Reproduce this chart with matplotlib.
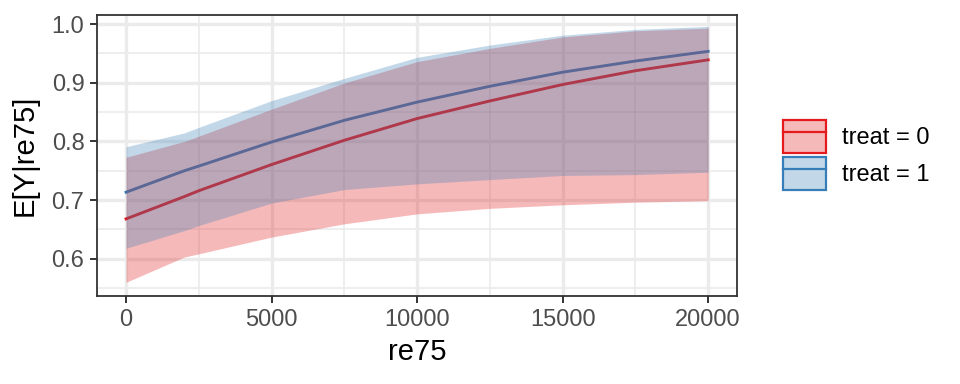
import numpy as np
from matplotlib import pyplot as plt
from matplotlib.patches import Patch
from matplotlib.lines import Line2D
from matplotlib.legend_handler import HandlerTuple

plt.rcParams['font.family'] = ['Liberation Sans', 'DejaVu Sans']

# values
re75 = [0, 2000, 2500, 5000, 7500, 10000, 12500, 15000, 17500, 20000]
fit_t0 = [0.668, 0.706, 0.716, 0.7606, 0.802, 0.839, 0.869, 0.897, 0.9205, 0.939]
lo_t0 = [0.560, 0.603, 0.6085, 0.637, 0.6596, 0.6766, 0.686, 0.692, 0.6965, 0.699]
hi_t0 = [0.773, 0.800, 0.809, 0.855, 0.8996, 0.936, 0.9586, 0.978, 0.9886, 0.993]
fit_t1 = [0.7135, 0.750, 0.758, 0.799, 0.836, 0.867, 0.894, 0.918, 0.937, 0.9535]
lo_t1 = [0.618, 0.648, 0.6567, 0.695, 0.718, 0.7277, 0.735, 0.742, 0.7435, 0.7475]
hi_t1 = [0.791, 0.8145, 0.824, 0.8695, 0.9075, 0.9433, 0.9643, 0.981, 0.991, 0.996]

labels = ["treat = 0", "treat = 1"]
colors = ["#E41A1C", "#377EB8"]
x_ticks = [0, 5000, 10000, 15000, 20000]
y_ticks = [0.6, 0.7, 0.8, 0.9, 1.0]

fig = plt.figure(figsize=(9.6, 3.84), dpi=100)
ax = fig.add_axes([0.101, 0.229, 0.667, 0.732])

series = [(fit_t0, lo_t0, hi_t0), (fit_t1, lo_t1, hi_t1)]
for (fit, lo, hi), c in zip(series, colors):
    ax.plot(re75, fit, color=c, lw=2.1, zorder=2, solid_joinstyle='round')
for (fit, lo, hi), c in zip(series, colors):
    ax.fill_between(re75, lo, hi, color=c, alpha=0.3, lw=0, zorder=3)

ax.set_xlim(-1000, 21000)
ax.set_ylim(0.5365, 1.0155)
ax.set_xticks(x_ticks)
ax.set_yticks(y_ticks)
ax.set_yticklabels([f"{v:.1f}" for v in y_ticks])
ax.set_xticks([2500, 7500, 12500, 17500], minor=True)
ax.set_yticks([0.55, 0.65, 0.75, 0.85, 0.95], minor=True)
ax.grid(which='major', color='#EBEBEB', lw=2.4, zorder=0)
ax.grid(which='minor', color='#EBEBEB', lw=1.2, zorder=0)
ax.set_axisbelow(True)
ax.tick_params(which='major', length=5, width=1.4, color='#333333',
               labelsize=17, labelcolor='#4D4D4D', pad=4)
ax.tick_params(which='minor', length=0)
for s in ax.spines.values():
    s.set_color('#333333')
    s.set_linewidth(1.3)

ax.set_xlabel("re75", fontsize=21, labelpad=5)
ax.set_ylabel("E[Y|re75]", fontsize=21, labelpad=9)

handles = []
for c in colors:
    handles.append((Patch(facecolor=c, alpha=0.3, edgecolor='none'),
                    Patch(facecolor='none', edgecolor=c, lw=1.6),
                    Line2D([], [], color=c, lw=1.6)))
fig.legend(handles, labels, handler_map={tuple: HandlerTuple(ndivide=1, pad=0)},
           loc='center left', bbox_to_anchor=(0.816, 0.596), frameon=False,
           fontsize=17, handlelength=1.8, handleheight=1.8, handletextpad=0.7,
           labelspacing=0.15, borderpad=0, borderaxespad=0)

fig.savefig("out.png", dpi=100)
